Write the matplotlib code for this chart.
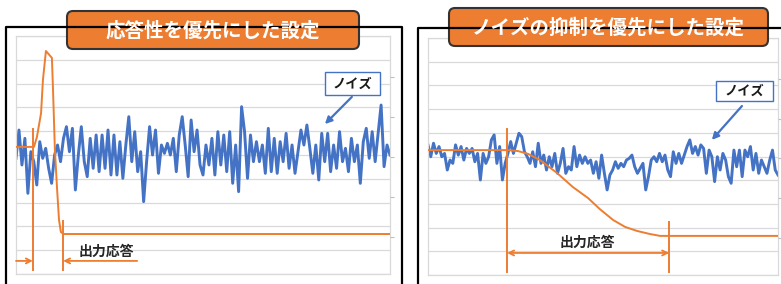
import numpy as np
import matplotlib
matplotlib.use('Agg')
import matplotlib.pyplot as plt
from matplotlib.patches import FancyBboxPatch, Rectangle
from matplotlib.lines import Line2D

plt.rcParams['font.family'] = ['Noto Sans CJK JP', 'DejaVu Sans']

# ---------------- data ----------------
title_left = "応答性を優先にした設定"
title_right = "ノイズの抑制を優先にした設定"
noise_label = "ノイズ"
resp_label = "出力応答"

# noise (response-priority setting)
noise_left = [
    4.86, 6.05, 4.58, 5.70, 3.39, 5.14, 4.72, 3.74, 5.56, 4.86, 5.28, 4.44, 3.81, 5.00, 5.42, 4.72,
    5.70, 6.19, 5.14, 6.12, 3.53, 5.00, 6.19, 4.72, 4.09, 5.70, 4.44, 5.84, 4.30, 5.84, 4.44, 6.05,
    4.16, 5.84, 4.16, 5.56, 4.02, 5.42, 6.61, 4.72, 5.98,
    4.30, 5.14, 3.04, 4.72, 6.19, 5.00, 6.05, 4.23, 5.42, 5.07, 5.49, 5.00, 5.70, 4.30, 5.84, 6.61,
    5.42, 4.09, 6.47, 5.14, 6.05, 4.58, 4.16, 5.42, 4.58, 5.70, 4.16, 5.98, 4.58, 5.84, 4.30, 5.98,
    3.81, 5.42, 3.46, 7.03, 5.98, 4.02, 5.84, 4.72, 5.56, 4.72, 5.42,
    4.23, 6.12, 4.30, 5.70, 4.23, 5.56, 4.72, 5.91, 4.44, 5.42, 4.23, 5.14, 6.05, 5.42, 6.26, 5.28,
    4.23, 5.42, 3.95, 5.91, 4.72, 5.91, 4.30, 5.42, 4.44, 5.98, 4.72, 5.28, 4.30, 5.70, 4.72, 5.42,
    3.81, 5.56, 6.12, 4.86, 5.98, 4.72, 5.91, 7.10, 4.51, 5.42, 5.00,
]
# noise (noise-suppression setting)
noise_right = [
    5.49, 4.99, 5.56, 5.13, 5.42, 4.99, 5.13, 4.43, 4.85, 4.71, 5.49, 5.06, 5.42, 4.85, 5.34, 5.13,
    5.34, 4.78, 5.13, 4.01, 5.13, 4.71, 4.99, 5.70, 5.91, 4.71, 5.42, 4.01, 4.71, 5.13, 5.63, 5.13,
    5.56, 5.98, 5.84, 5.20, 4.99, 4.71, 5.20, 4.57, 5.56,
    4.71, 5.06, 4.43, 4.99, 4.57, 5.13, 4.29, 4.71, 5.34, 4.29, 4.57, 4.43, 5.42, 4.57, 5.06, 4.71,
    4.99, 4.71, 4.85, 4.29, 4.78, 4.08, 5.06, 4.29, 3.59, 4.22, 4.43, 4.78, 4.50, 4.71, 4.57, 4.85,
    4.92, 5.06, 4.57, 4.29, 4.50, 4.71, 3.59, 4.15, 4.85,
    4.99, 4.78, 5.13, 4.78, 5.06, 4.43, 4.15, 5.20, 4.71, 5.13, 4.71, 5.06, 5.42, 5.70, 5.13, 5.42,
    5.06, 5.49, 5.34, 4.29, 5.27, 4.99, 3.94, 4.99, 4.43, 5.13, 4.85, 4.15, 3.87, 5.27, 4.57, 5.27,
    4.15, 5.27, 4.99, 5.42, 4.43, 5.13, 4.29, 4.85, 4.57, 4.29, 4.85, 5.27, 4.43, 4.22,
]

# output response curves
out_x_left = [0, 4.8, 5.6, 6.7, 7.2, 8.0, 9.6, 9.9, 10.4, 11.0, 11.5, 12.0, 12.8, 100]
out_y_left = [5.34, 5.34, 5.76, 6.76, 8.15, 9.37, 9.08, 7.73, 5.21, 3.53, 2.27, 1.76, 1.68, 1.68]
out_x_right = [0, 22.9, 25.7, 28.6, 32.0, 36.9, 41.4, 45.7, 49.1, 52.9, 56.3, 59.7, 63.4, 66.3, 69.1, 100]
out_y_right = [5.27, 5.27, 5.23, 5.11, 4.85, 4.30, 3.71, 3.25, 2.78, 2.32, 2.03, 1.86, 1.73, 1.65, 1.65, 1.65]

# response-time markers: start, end
resp_left = [4.5, 12.6]
resp_right = [22.6, 68.9]

# secondary-axis tick positions (right edge)
sec_ticks = [1.55, 3.24, 4.92, 6.60, 8.28]

BLUE = '#4472C4'
ORANGE = '#ED7D31'
GRID = '#D9D9D9'

W, H = 781, 284
fig = plt.figure(figsize=(W / 100, H / 100), dpi=100)


def box(x0, y0, x1, y1):
    return [x0 / W, 1 - y1 / H, (x1 - x0) / W, (y1 - y0) / H]


def style(ax):
    ax.set_xlim(0, 100)
    ax.set_ylim(0, 10)
    ax.set_yticks(range(0, 11))
    ax.set_xticks([])
    ax.grid(axis='y', color=GRID, lw=0.9)
    ax.tick_params(length=0, labelleft=False, labelbottom=False)
    for s in ax.spines.values():
        s.set_color(GRID)
        s.set_linewidth(0.9)
    ax.set_axisbelow(True)
    tw = ax.twinx()
    tw.set_ylim(0, 10)
    tw.set_yticks(sec_ticks)
    tw.tick_params(axis='y', length=3, width=0.8, color='#BFBFBF', labelright=False)
    for s in tw.spines.values():
        s.set_visible(False)


axL = fig.add_axes(box(16, 36, 390, 274))
axR = fig.add_axes(box(428, 38, 778, 275))
style(axL)
style(axR)

# ---- left panel ----
axL.plot(np.linspace(0, 100, len(noise_left)), noise_left, color=BLUE, lw=2.1, zorder=2)
axL.plot(out_x_left, out_y_left, color=ORANGE, lw=1.4, zorder=3)
axL.plot([resp_left[0]] * 2, [0.17, 6.09], color=ORANGE, lw=1.4, zorder=3)
axL.plot([resp_left[1]] * 2, [0.17, 2.23], color=ORANGE, lw=1.4, zorder=3)
ap = dict(arrowstyle='->', color=ORANGE, lw=1.3, shrinkA=0, shrinkB=0, mutation_scale=9)
axL.annotate('', xy=(resp_left[0], 0.55), xytext=(0, 0.55), arrowprops=ap, zorder=3)
axL.annotate('', xy=(resp_left[1], 0.55), xytext=(32.4, 0.55), arrowprops=ap, zorder=3)
axL.text(24.1, 0.95, resp_label, ha='center', va='center', fontsize=10, fontweight='bold',
         color='#262626', zorder=4)
axL.add_patch(Rectangle((82.6, 7.52), 14.7, 0.97, fc='white', ec=BLUE, lw=1.0, zorder=4))
axL.text(89.95, 8.0, noise_label, ha='center', va='center', fontsize=9.5, fontweight='bold',
         color='#1a1a1a', zorder=5)
axL.annotate('', xy=(82.6, 6.30), xytext=(89.8, 7.44),
             arrowprops=dict(arrowstyle='-|>', color=BLUE, lw=1.6, shrinkA=0, shrinkB=0,
                             mutation_scale=10), zorder=4)

# ---- right panel ----
axR.plot(np.linspace(0, 100, len(noise_right)), noise_right, color=BLUE, lw=2.1, zorder=2)
axR.plot(out_x_right, out_y_right, color=ORANGE, lw=1.4, zorder=3)
axR.plot([resp_right[0]] * 2, [0.13, 6.16], color=ORANGE, lw=1.4, zorder=3)
axR.plot([resp_right[1]] * 2, [0.13, 2.24], color=ORANGE, lw=1.4, zorder=3)
axR.annotate('', xy=(resp_right[1], 0.93), xytext=(resp_right[0], 0.93),
             arrowprops=dict(arrowstyle='<->', color=ORANGE, lw=1.3, shrinkA=0, shrinkB=0,
                             mutation_scale=9), zorder=3)
axR.text(45.4, 1.38, resp_label, ha='center', va='center', fontsize=10, fontweight='bold',
         color='#262626', zorder=4)
axR.add_patch(Rectangle((82.3, 7.34), 16.3, 0.85, fc='white', ec=BLUE, lw=1.0, zorder=4))
axR.text(90.45, 7.76, noise_label, ha='center', va='center', fontsize=9.5, fontweight='bold',
         color='#1a1a1a', zorder=5)
axR.annotate('', xy=(81.1, 5.70), xytext=(89.7, 7.13),
             arrowprops=dict(arrowstyle='-|>', color=BLUE, lw=1.6, shrinkA=0, shrinkB=0,
                             mutation_scale=10), zorder=4)

# ---- overlay: frames and title boxes (pixel coordinates) ----
ov = fig.add_axes([0, 0, 1, 1], zorder=10)
ov.set_xlim(0, W)
ov.set_ylim(H, 0)
ov.axis('off')
ov.patch.set_alpha(0)

ov.add_line(Line2D([6, 6, 402, 402], [300, 27, 27, 300], color='black', lw=1.6))
ov.add_line(Line2D([418, 418, 800], [300, 28, 28], color='black', lw=1.6))

for (x0, y0, x1, y1, t) in [(67, 11, 359, 49, title_left), (449, 8, 768, 46, title_right)]:
    ov.add_patch(FancyBboxPatch((x0, y0), x1 - x0, y1 - y0,
                                boxstyle='round,pad=0,rounding_size=6',
                                fc=ORANGE, ec='#333333', lw=1.5))
    ov.text((x0 + x1) / 2, (y0 + y1) / 2 + 1, t, ha='center', va='center', fontsize=14,
            fontweight='bold', color='white')

fig.savefig('out.png', dpi=100)
